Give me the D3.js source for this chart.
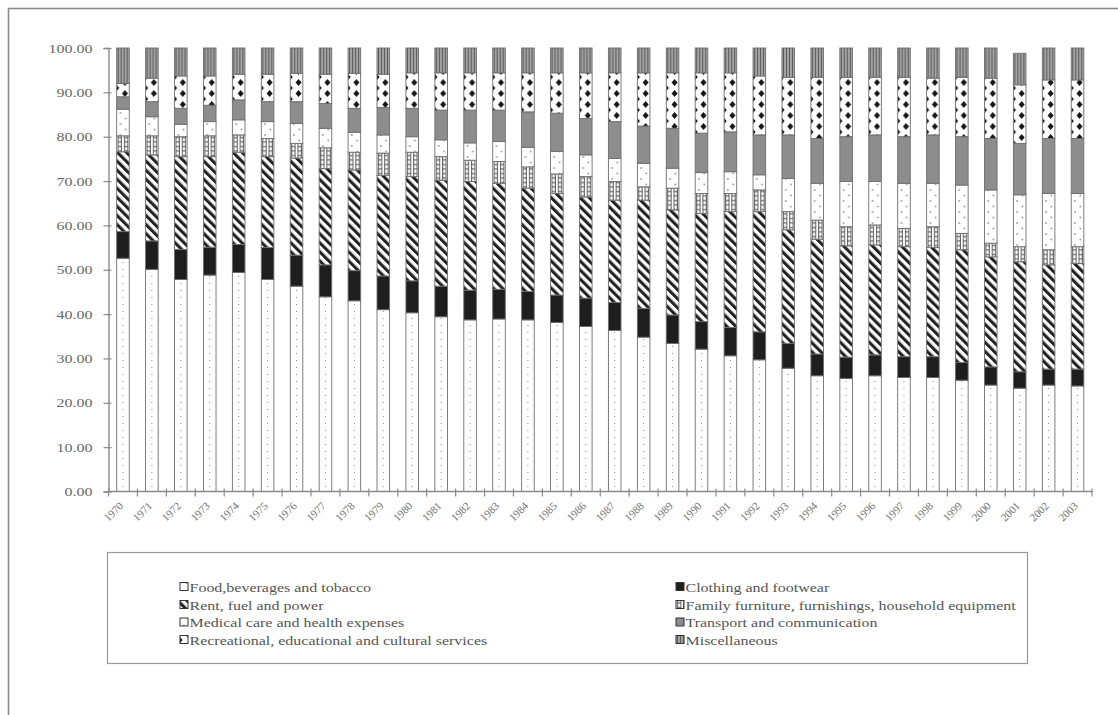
<!DOCTYPE html>
<html>
<head>
<meta charset="utf-8">
<script src="https://cdn.jsdelivr.net/npm/d3@7"></script>
<style>
  body { margin: 0; background: #fff; }
  svg { display: block; font-family: "Liberation Serif", "Times New Roman", serif; }
</style>
</head>
<body>
<svg id="chart" width="1118" height="715"></svg>
<script>
// Household expenditure shares (%) by year
const years = ["1970","1971","1972","1973","1974","1975","1976","1977","1978","1979",
  "1980","1981","1982","1983","1984","1985","1986","1987","1988","1989",
  "1990","1991","1992","1993","1994","1995","1996","1997","1998","1999",
  "2000","2001","2002","2003"];

const food = [52.6,50.1,47.8,48.8,49.4,47.8,46.3,43.9,43.0,41.0,
  40.3,39.4,38.7,38.9,38.7,38.1,37.2,36.3,34.8,33.4,
  32.1,30.6,29.7,27.8,26.1,25.5,26.1,25.7,25.7,25.1,
  24.0,23.3,24.0,23.8];
const clothing = [6.0,6.4,6.8,6.3,6.3,7.2,7.0,7.2,6.8,7.6,
  7.2,6.9,6.7,6.7,6.4,6.2,6.4,6.3,6.5,6.4,
  6.2,6.4,6.3,5.6,4.9,4.8,4.7,4.7,4.7,4.0,
  4.1,3.7,3.6,3.8];
const rent = [18.0,19.4,20.9,20.4,20.8,20.5,21.9,21.7,22.7,22.7,
  23.5,23.9,24.5,23.9,23.3,22.9,22.8,23.1,24.4,23.7,
  24.4,26.1,27.1,25.6,25.9,25.1,24.8,24.8,24.6,25.4,
  24.8,24.8,23.5,23.8];
const furniture = [3.6,4.3,4.5,4.7,3.9,4.1,3.3,4.7,4.0,5.0,
  5.5,5.3,4.8,4.9,4.8,4.4,4.6,4.2,3.0,4.9,
  4.5,4.1,4.9,4.1,4.3,4.3,4.5,4.1,4.7,3.7,
  3.1,3.4,3.4,3.8];
const medical = [6.0,4.3,2.8,3.2,3.4,3.8,4.5,4.4,4.5,4.1,
  3.5,3.8,3.9,4.5,4.4,5.1,4.9,5.2,5.3,4.5,
  4.7,4.9,3.4,7.5,8.3,10.2,9.8,10.2,9.8,10.9,
  12.0,11.7,12.7,12.0];
const transport = [2.8,3.4,3.6,3.7,4.5,4.5,4.9,5.6,5.4,6.2,
  6.4,6.7,7.4,7.1,8.0,8.6,8.2,8.3,8.4,9.0,
  8.9,9.0,9.0,9.8,10.1,10.1,10.5,10.5,10.9,10.9,
  11.6,11.6,12.4,12.4];
const recreation = [3.0,5.3,7.3,6.6,5.8,6.2,6.4,6.6,7.9,7.5,
  8.0,8.4,8.4,8.4,8.8,9.1,10.3,11.0,12.0,12.5,
  13.6,13.3,13.3,13.0,13.8,13.4,13.0,13.4,12.8,13.4,
  13.6,13.2,13.2,13.2];
const misc = [8.0,6.8,6.3,6.3,5.9,5.9,5.7,5.9,5.7,5.9,
  5.6,5.6,5.6,5.6,5.6,5.6,5.6,5.6,5.6,5.6,
  5.6,5.6,6.3,6.6,6.6,6.6,6.6,6.6,6.8,6.6,
  6.8,7.1,7.2,7.2];

const seriesKeys = ["food","clothing","rent","furniture","medical","transport","recreation","misc"];
const seriesLabels = {
  food: "Food,beverages and tobacco",
  clothing: "Clothing and footwear",
  rent: "Rent, fuel and power",
  furniture: "Family furniture, furnishings, household equipment",
  medical: "Medical care and health expenses",
  transport: "Transport and communication",
  recreation: "Recreational, educational and cultural services",
  misc: "Miscellaneous"
};
const yTicks = [0,10,20,30,40,50,60,70,80,90,100];

const table = years.map((yr, i) => ({
  year: yr, food: food[i], clothing: clothing[i], rent: rent[i], furniture: furniture[i],
  medical: medical[i], transport: transport[i], recreation: recreation[i], misc: misc[i]
}));

const svg = d3.select("#chart");
const margin = { left: 108.5, right: 1092, top: 48, bottom: 491.5 };

// Outer frame
svg.append("rect").attr("x", 8.5).attr("y", 8.5).attr("width", 1200).attr("height", 800)
  .attr("fill", "none").attr("stroke", "#8a8a8a").attr("stroke-width", 1.6);

const x = d3.scaleBand().domain(years).range([margin.left, margin.right]).paddingInner(0).paddingOuter(0);
const y = d3.scaleLinear().domain([0, 100]).range([margin.bottom, margin.top]);
const barW = x.bandwidth() * 0.435;
const barOff = (x.bandwidth() - barW) / 2;

// Fill patterns for each spending category
const defs = svg.append("defs");
function pat(id, w, h, build, transform) {
  const p = defs.append("pattern").attr("id", id).attr("patternUnits", "userSpaceOnUse")
    .attr("width", w).attr("height", h);
  if (transform) p.attr("patternTransform", transform);
  build(p);
}
pat("p-food", barW, 7, p => {
  p.append("rect").attr("width", barW).attr("height", 7).attr("fill", "#fff");
  p.append("rect").attr("x", barW / 2 - 0.5).attr("y", 3).attr("width", 1).attr("height", 1).attr("fill", "#888");
});
pat("p-clothing", 4, 4, p => {
  p.append("rect").attr("width", 4).attr("height", 4).attr("fill", "#1e1e1e");
});
pat("p-rent", 6.4, 6.4, p => {
  p.append("rect").attr("width", 6.4).attr("height", 6.4).attr("fill", "#fff");
  p.append("rect").attr("width", 3.1).attr("height", 6.4).attr("fill", "#222");
}, "rotate(-45)");
pat("p-furniture", barW / 2, 4.5, p => {
  const w = barW / 2;
  p.append("rect").attr("width", w).attr("height", 4.5).attr("fill", "#fff");
  p.append("rect").attr("x", 1).attr("y", 0).attr("width", 1).attr("height", 4.5).attr("fill", "#555");
  p.append("rect").attr("x", w - 2).attr("y", 0).attr("width", 1).attr("height", 4.5).attr("fill", "#555");
  p.append("rect").attr("x", 1).attr("y", 2).attr("width", w - 2).attr("height", 1).attr("fill", "#555");
});
pat("p-medical", barW, 11, p => {
  p.append("rect").attr("width", barW).attr("height", 11).attr("fill", "#fff");
  p.append("circle").attr("cx", barW * 0.3).attr("cy", 3).attr("r", 0.9).attr("fill", "#999");
  p.append("circle").attr("cx", barW * 0.72).attr("cy", 8.5).attr("r", 0.9).attr("fill", "#999");
});
pat("p-transport", 4, 4, p => {
  p.append("rect").attr("width", 4).attr("height", 4).attr("fill", "#8d8d8d");
});
pat("p-recreation", barW, 11, p => {
  p.append("rect").attr("width", barW).attr("height", 11).attr("fill", "#fff");
  const cx = barW * 0.66;
  p.append("path").attr("d", `M${cx},2 L${cx + 3},5.5 L${cx},9 L${cx - 3},5.5 Z`).attr("fill", "#151515");
  p.append("path").attr("d", `M0,-3 L2.6,0 L0,3 Z M0,8 L2.6,11 L0,14 Z`).attr("fill", "#151515");
});
pat("p-misc", 3, 4, p => {
  p.append("rect").attr("width", 3).attr("height", 4).attr("fill", "#a2a2a2");
  p.append("rect").attr("x", 1).attr("width", 1).attr("height", 4).attr("fill", "#5c5c5c");
});

// Stacked bars
const stack = d3.stack().keys(seriesKeys)(table);
const bars = svg.append("g");
stack.forEach(layer => {
  const key = layer.key;
  layer.forEach(d => {
    const g = bars.append("g").attr("transform", `translate(${x(d.data.year) + barOff},0)`);
    g.append("rect")
      .attr("x", 0).attr("width", barW)
      .attr("y", y(d[1])).attr("height", y(d[0]) - y(d[1]))
      .attr("fill", `url(#p-${key})`)
      .attr("stroke", "#6e6e6e").attr("stroke-width", 0.9);
  });
});

// Y axis
const yAxis = svg.append("g").attr("transform", `translate(${margin.left},0)`)
  .call(d3.axisLeft(y).tickValues(yTicks).tickFormat(d3.format(".2f")).tickSize(5).tickPadding(0));
yAxis.select(".domain").attr("stroke", "#8a8a8a").attr("stroke-width", 1.4);
yAxis.selectAll(".tick line").attr("x1", -5).attr("x2", 3).attr("stroke", "#8a8a8a").attr("stroke-width", 1.2);
yAxis.selectAll(".tick text")
  .attr("x", -16 / 1.25).attr("transform", "scale(1.25,1)")
  .attr("font-size", 12.8).attr("fill", "#6a6a6a").attr("font-family", "Liberation Serif");

// X axis
const xAxis = svg.append("g").attr("transform", `translate(0,${margin.bottom})`);
xAxis.append("line").attr("x1", margin.left).attr("x2", margin.right + 1)
  .attr("y1", 0).attr("y2", 0).attr("stroke", "#8a8a8a").attr("stroke-width", 1.4);
xAxis.selectAll("line.tk").data(years.concat(["end"])).join("line").attr("class", "tk")
  .attr("x1", (d, i) => margin.left + i * x.step()).attr("x2", (d, i) => margin.left + i * x.step())
  .attr("y1", -3).attr("y2", 5).attr("stroke", "#8a8a8a").attr("stroke-width", 1.2);
xAxis.selectAll("text").data(years).join("text")
  .attr("transform", d => `translate(${x(d) + x.bandwidth() / 2 + 1},${15}) rotate(-45)`)
  .attr("text-anchor", "end").attr("font-size", 11).attr("fill", "#707070")
  .text(d => d);

// Legend
const legend = svg.append("g");
legend.append("rect").attr("x", 107.5).attr("y", 552.5).attr("width", 920).attr("height", 111)
  .attr("fill", "none").attr("stroke", "#999").attr("stroke-width", 1.2);
const rowsY = [587, 605, 622.5, 640];
const colsX = [180, 676];
seriesKeys.forEach((k, i) => {
  const col = i % 2, row = Math.floor(i / 2);
  const g = legend.append("g").attr("transform", `translate(${colsX[col]},${rowsY[row]})`);
  g.append("rect").attr("x", 0).attr("y", -4.5).attr("width", 8).attr("height", 8)
    .attr("fill", `url(#p-${k})`).attr("stroke", "#333").attr("stroke-width", 1);
  g.append("g").attr("transform", "translate(9.5,4.5) scale(1.23,1)")
    .append("text").attr("font-size", 13).attr("fill", "#555").text(seriesLabels[k]);
});
</script>
</body>
</html>
